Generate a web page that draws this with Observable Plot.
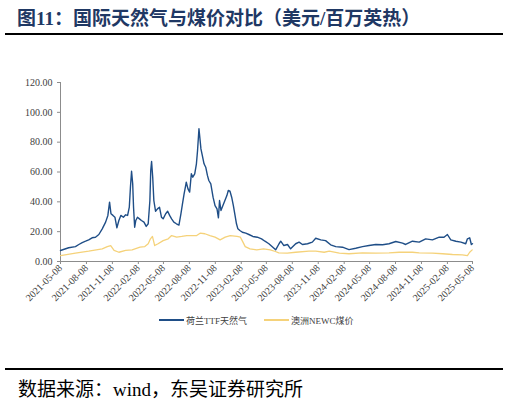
<!DOCTYPE html>
<html><head><meta charset="utf-8">
<script src="https://cdn.jsdelivr.net/npm/d3@7"></script>
<script src="https://cdn.jsdelivr.net/npm/@observablehq/plot@0.6"></script>
<style>
body{margin:0;width:510px;height:403px;background:#fff;position:relative;overflow:hidden;}
.abs{position:absolute;}
#chart svg, #chart svg text{font-family:'Liberation Serif', serif !important;}
</style>
</head><body>
<div class="abs" style="left:17px;top:3px;font:bold 19px 'Liberation Serif','Noto Sans CJK SC';color:#1f3864;white-space:nowrap">图11：国际天然气与煤价对比（美元/百万英热）</div>
<div class="abs" style="left:5px;top:33px;width:498px;height:2px;background:#000"></div>
<div id="chart" class="abs" style="left:0;top:36px"></div>
<div id="legend"></div>
<div class="abs" style="left:5px;top:368px;width:498px;height:2px;background:#000"></div>
<div class="abs" style="left:18px;top:374px;font:19px 'Liberation Serif','Noto Sans CJK SC';color:#000;white-space:nowrap">数据来源：wind，东吴证券研究所</div>
<script>
const ttfDates = ["2021-05-08","2021-06-06","2021-06-30","2021-07-12","2021-07-24","2021-08-05","2021-08-16","2021-08-28","2021-09-09","2021-09-21","2021-10-03","2021-10-15","2021-10-23","2021-10-29","2021-11-03","2021-11-10","2021-11-17","2021-11-24","2021-12-01","2021-12-08","2021-12-17","2021-12-25","2022-01-01","2022-01-07","2022-01-11","2022-01-15","2022-01-19","2022-01-22","2022-01-26","2022-01-30","2022-02-05","2022-02-12","2022-02-19","2022-02-28","2022-03-08","2022-03-15","2022-03-21","2022-03-24","2022-03-27","2022-03-31","2022-04-04","2022-04-10","2022-04-17","2022-04-24","2022-05-01","2022-05-07","2022-05-16","2022-05-23","2022-05-30","2022-06-06","2022-06-14","2022-06-23","2022-07-02","2022-07-09","2022-07-14","2022-07-20","2022-07-26","2022-07-28","2022-08-03","2022-08-09","2022-08-15","2022-08-20","2022-08-27","2022-09-02","2022-09-06","2022-09-11","2022-09-14","2022-09-18","2022-09-23","2022-09-29","2022-10-05","2022-10-11","2022-10-16","2022-10-23","2022-10-31","2022-11-07","2022-11-14","2022-11-19","2022-11-23","2022-11-28","2022-12-05","2022-12-12","2022-12-19","2022-12-24","2022-12-30","2023-01-05","2023-01-11","2023-01-16","2023-01-22","2023-01-27","2023-02-03","2023-02-12","2023-02-24","2023-03-07","2023-03-21","2023-04-06","2023-04-21","2023-05-03","2023-05-17","2023-05-31","2023-06-10","2023-06-22","2023-06-28","2023-07-09","2023-07-22","2023-08-02","2023-08-20","2023-09-01","2023-09-13","2023-10-01","2023-10-18","2023-10-30","2023-11-17","2023-12-04","2023-12-22","2024-01-09","2024-02-02","2024-02-25","2024-03-20","2024-04-13","2024-05-06","2024-05-30","2024-06-23","2024-07-16","2024-08-09","2024-09-02","2024-09-13","2024-10-07","2024-10-31","2024-11-23","2024-12-17","2025-01-10","2025-01-27","2025-02-08","2025-02-20","2025-03-10","2025-03-28","2025-04-14","2025-04-20","2025-04-28","2025-05-04","2025-05-08"];
const ttfValues = [7.4,9.2,10,11.4,12.7,13.6,14.5,15.9,16.3,18.1,21.9,26.4,30.9,39.8,32,30.9,29.7,22.6,27.5,30.9,29.7,31.3,30.9,36.4,49.8,60.5,52.1,36.4,23,27.5,29.7,28.6,27.5,26.4,23.5,25.3,40.9,61,67,56.5,40.9,33.7,35.3,36.4,29.7,28.6,32,33.7,30.9,28.6,26.4,25.3,24.4,32,38,45,51,53.2,48.7,46.5,58.8,56.5,58.8,65.5,74.4,89,83.3,75.5,71,65.5,63.2,57.7,54.3,52.1,43.1,37.5,35.3,29.3,40.9,34.2,37.5,40.9,44.2,47.6,47.1,43.1,37.5,32,25.3,21.9,20.8,19.6,19,18.1,16.8,16.3,15.2,13.6,11.9,9.6,7.8,11.9,13.6,10.7,11.4,8.5,11.9,13,11.4,11.9,13,15.6,14.5,14,11.2,10,9.6,8,8.9,10,10.7,11.4,11.2,11.9,13.4,12.3,11.4,13.6,13,15.2,14.5,16.3,16.3,18.1,14.5,13.6,13,11.9,15.2,15.9,11.4,11.9];

const newcDates = ["2021-05-08","2021-06-30","2021-08-16","2021-10-03","2021-10-21","2021-11-02","2021-11-14","2021-12-01","2021-12-25","2022-01-17","2022-02-14","2022-03-03","2022-03-15","2022-03-23","2022-03-30","2022-04-07","2022-04-19","2022-05-07","2022-05-25","2022-06-06","2022-06-24","2022-07-12","2022-07-30","2022-08-10","2022-09-03","2022-09-15","2022-10-02","2022-10-20","2022-11-07","2022-11-25","2022-12-13","2022-12-31","2023-01-24","2023-02-05","2023-02-14","2023-02-22","2023-03-11","2023-04-04","2023-04-28","2023-05-22","2023-06-09","2023-06-21","2023-07-21","2023-08-20","2023-10-06","2023-10-30","2023-11-29","2023-12-17","2024-01-22","2024-02-25","2024-04-13","2024-05-30","2024-07-16","2024-08-21","2024-10-07","2024-10-31","2024-12-17","2025-01-22","2025-02-26","2025-04-02","2025-04-20","2025-04-28","2025-05-07"];
const newcValues = [4,5.6,6.9,8.5,10,10.7,7.4,6.2,7.4,7.8,9.6,10,11.9,15.2,16.8,10.7,11.9,14,15.2,17.4,16.3,16.8,17.4,17.4,17.4,19,18.6,17.4,16.3,14.5,16.3,17.4,16.8,16.3,13,10,8.5,7.8,8.5,7.8,6.7,5.8,5.6,6.2,6.9,6.9,6.2,6.9,5.6,5.2,5.8,5.6,5.8,6.2,6.2,5.8,5.6,5.2,4.7,4.5,4,6.2,7.8];

const xTickLabels = ["2021-05-08","2021-08-08","2021-11-08","2022-02-08","2022-05-08","2022-08-08","2022-11-08","2023-02-08","2023-05-08","2023-08-08","2023-11-08","2024-02-08","2024-05-08","2024-08-08","2024-11-08","2025-02-08","2025-05-08"];
const yTicks = [0,20,40,60,80,100,120];
const seriesNames = ["荷兰TTF天然气","澳洲NEWC煤价"];
const seriesColors = ["#1f4e87","#f5d27a"];

const parse = d3.utcParse("%Y-%m-%d");
const ttf = ttfDates.map((d,i)=>({date:parse(d), value:ttfValues[i]}));
const newc = newcDates.map((d,i)=>({date:parse(d), value:newcValues[i]}));
const xTicks = xTickLabels.map(parse);
const fmt = d3.utcFormat("%Y-%m-%d");
const axisColor = "#8c8c8c";

const chart = Plot.plot({
  width: 510, height: 269,
  marginTop: 46, marginBottom: 44, marginLeft: 60, marginRight: 38,
  style: {fontFamily: "'Liberation Serif', serif", fontSize: "10px", color: "#404040", background: "transparent", overflow: "visible"},
  x: {type: "utc", domain: [xTicks[0], xTicks[xTicks.length-1]]},
  y: {domain: [0,120]},
  marks: [
    Plot.axisY({ticks: yTicks, tickFormat: d=>d.toFixed(2), tickSize: 3, tickPadding: 5, label: null, stroke: axisColor, fontSize: 10}),
    Plot.axisX({ticks: xTicks, tickFormat: fmt, tickRotate: -45, tickSize: 3, tickPadding: 2, label: null, stroke: axisColor, fontSize: 10}),
    Plot.ruleX([xTicks[0]], {stroke: axisColor}),
    Plot.ruleY([0], {stroke: axisColor}),
    Plot.lineY(newc, {x:"date", y:"value", stroke: seriesColors[1], strokeWidth: 1.3}),
    Plot.lineY(ttf, {x:"date", y:"value", stroke: seriesColors[0], strokeWidth: 1.4})
  ]
});
document.getElementById("chart").appendChild(chart);

const legend = document.getElementById("legend");
const lefts = [159, 264];
seriesNames.forEach((n,i)=>{
  const item = document.createElement("div");
  item.className = "abs";
  item.style.cssText = `left:${lefts[i]}px;top:313px;display:flex;align-items:center;white-space:nowrap;font:9px 'Liberation Serif','Noto Sans CJK SC';color:#404040;height:14px`;
  item.innerHTML = `<span style="display:inline-block;width:25px;height:1.5px;background:${seriesColors[i]};margin-right:2px"></span><span>${n}</span>`;
  legend.appendChild(item);
});
</script>
</body></html>
